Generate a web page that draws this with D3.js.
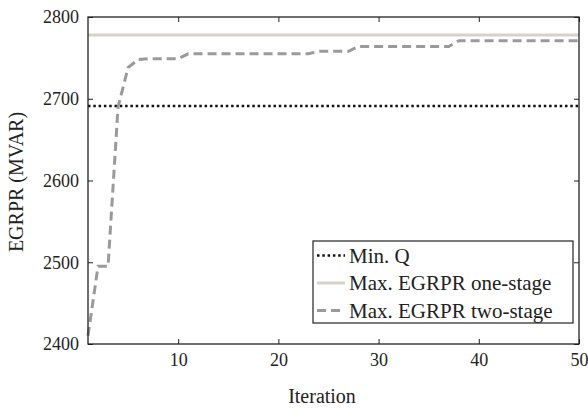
<html>
<head>
<script src="https://d3js.org/d3.v7.min.js"></script>
</head>
<body style="margin:0">
<svg width="588" height="408"></svg>
<script>
// data
const iterations = d3.range(1, 51);
const minQ = 2691;
const maxOneStage = 2778;
// two-stage values, iteration 1..50
const twoStage = [
  2410, 2495, 2495, 2690, 2738, 2748, 2749, 2749, 2749, 2749,
  2755, 2755, 2755, 2755, 2755, 2755, 2755, 2755, 2755, 2755,
  2755, 2755, 2755, 2758, 2758, 2758, 2758, 2764, 2764, 2764,
  2764, 2764, 2764, 2764, 2764, 2764, 2764, 2771, 2771, 2771,
  2771, 2771, 2771, 2771, 2771, 2771, 2771, 2771, 2771, 2771
];
const xTicks = [10, 20, 30, 40, 50];
const yTicks = [2400, 2500, 2600, 2700, 2800];
const legendLabels = ["Min. Q", "Max. EGRPR one-stage", "Max. EGRPR two-stage"];

const fontName = '"Times New Roman"';
const svg = d3.select('svg').style('font-family', fontName);
const mLeft = 88, mRight = 579, mTop = 17, mBottom = 344;

const x = d3.scaleLinear().domain([1, 50]).range([mLeft, mRight]);
const y = d3.scaleLinear().domain([2400, 2800]).range([mBottom, mTop]);

// series
const line = d3.line().x((d, i) => x(iterations[i])).y(d => y(d));

svg.append('path')
  .attr('d', line(iterations.map(() => maxOneStage)))
  .attr('fill', 'none').attr('stroke', '#d6d2ca').attr('stroke-width', 3);

svg.append('path')
  .attr('d', line(iterations.map(() => minQ)))
  .attr('fill', 'none').attr('stroke', '#111').attr('stroke-width', 2.5)
  .attr('stroke-dasharray', '2.5,2.8');

svg.append('path')
  .attr('d', line(twoStage))
  .attr('fill', 'none').attr('stroke', '#999a9c').attr('stroke-width', 3)
  .attr('stroke-dasharray', '9,5');

// axes with inward ticks
const tl = 5;
const fmt = d3.format('d');
const gx = svg.append('g').attr('transform', `translate(0,${mBottom})`)
  .call(d3.axisBottom(x).tickValues(xTicks).tickFormat(fmt).tickSizeInner(-tl).tickSizeOuter(0).tickPadding(9));
const gy = svg.append('g').attr('transform', `translate(${mLeft},0)`)
  .call(d3.axisLeft(y).tickValues(yTicks).tickFormat(fmt).tickSizeInner(-tl).tickSizeOuter(0).tickPadding(9));
const gxt = svg.append('g').attr('transform', `translate(0,${mTop})`)
  .call(d3.axisTop(x).tickValues(xTicks).tickSizeInner(-tl).tickSizeOuter(0).tickFormat(''));
const gyr = svg.append('g').attr('transform', `translate(${mRight},0)`)
  .call(d3.axisRight(y).tickValues(yTicks).tickSizeInner(-tl).tickSizeOuter(0).tickFormat(''));

[gx, gy, gxt, gyr].forEach(g => {
  g.attr('font-family', null).attr('font-size', null);
  g.select('.domain').remove();
  g.selectAll('.tick line').attr('stroke', '#222');
  g.selectAll('.tick text').attr('fill', '#222')
    .style('font-family', fontName).style('font-size', '18px');
});

svg.append('rect')
  .attr('x', mLeft).attr('y', mTop).attr('width', mRight - mLeft).attr('height', mBottom - mTop)
  .attr('fill', 'none').attr('stroke', '#222').attr('stroke-width', 1.3);

// axis labels
svg.append('text').attr('x', 322).attr('y', 403).attr('fill', '#222')
  .attr('text-anchor', 'middle').style('font-family', fontName).style('font-size', '20px').text('Iteration');
svg.append('text').attr('transform', `translate(23,182) rotate(-90)`).attr('fill', '#222')
  .attr('text-anchor', 'middle').style('font-family', fontName).style('font-size', '20px').text('EGRPR (MVAR)');

// legend
const lg = svg.append('g');
lg.append('rect').attr('x', 313).attr('y', 241).attr('width', 260).attr('height', 82)
  .attr('fill', '#fff').attr('stroke', '#222').attr('stroke-width', 1.2);
const legendStyles = [
  { stroke: '#111', dash: '2.5,2.8', w: 2.5 },
  { stroke: '#d6d2ca', dash: null, w: 3 },
  { stroke: '#999a9c', dash: '9,5', w: 3 }
];
legendLabels.forEach((lab, i) => {
  const base = 262.5 + i * 27.5;
  lg.append('line').attr('x1', 317).attr('x2', 345).attr('y1', base - 7).attr('y2', base - 7)
    .attr('stroke', legendStyles[i].stroke).attr('stroke-width', legendStyles[i].w)
    .attr('stroke-dasharray', legendStyles[i].dash);
  lg.append('text').attr('x', 349).attr('y', base).attr('fill', '#222')
    .style('font-family', fontName).style('font-size', '21px').text(lab);
});
</script>
</body>
</html>
